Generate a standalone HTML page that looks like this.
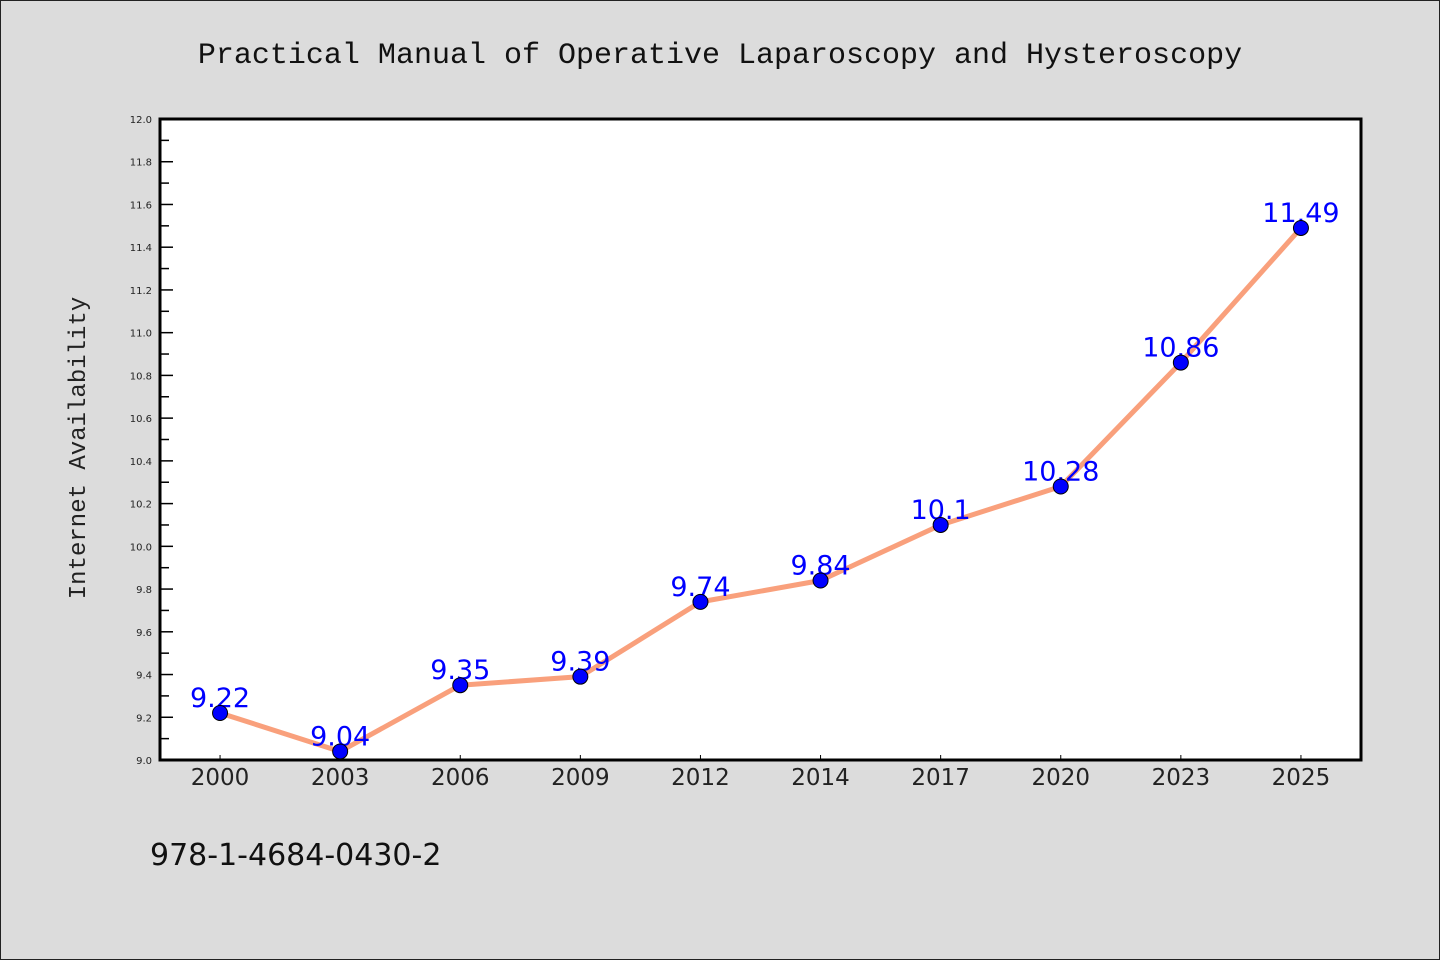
<!DOCTYPE html>
<html><head><meta charset="utf-8"><style>
body{margin:0;background:#dcdcdc}
svg{display:block}
</style></head><body>
<svg id="chart" width="1440" height="960" viewBox="0 0 1440 960" xmlns="http://www.w3.org/2000/svg">
<rect x="0.5" y="0.5" width="1439" height="959" fill="#dcdcdc" stroke="#222" stroke-width="1"/>
<text x="720" y="63" text-anchor="middle" font-family="'Liberation Mono','WenQuanYi Zen Hei',monospace" font-size="30" fill="#111">Practical Manual of Operative Laparoscopy and Hysteroscopy</text>
<rect x="160" y="119" width="1201" height="641" fill="#fff"/>
<g id="yaxis"></g>
<g id="xaxis"></g>
<g id="series"></g>
<rect x="160" y="119" width="1201" height="641" fill="none" stroke="#000" stroke-width="3"/>
<text transform="translate(85,448) rotate(-90)" text-anchor="middle" font-family="'Liberation Mono','WenQuanYi Zen Hei',monospace" font-size="24" fill="#222">Internet Availability</text>
<text x="150" y="865" font-family="'DejaVu Sans','WenQuanYi Zen Hei',sans-serif" font-size="30" fill="#111">978-1-4684-0430-2</text>
</svg>
<script>
const categories=["2000","2003","2006","2009","2012","2014","2017","2020","2023","2025"];
const values=[9.22,9.04,9.35,9.39,9.74,9.84,10.1,10.28,10.86,11.49];
const valueLabels=["9.22","9.04","9.35","9.39","9.74","9.84","10.1","10.28","10.86","11.49"];
const yTicks=[9.0,9.2,9.4,9.6,9.8,10.0,10.2,10.4,10.6,10.8,11.0,11.2,11.4,11.6,11.8,12.0];
const yMin=9.0,yMax=12.0;
const L=160,R=1361,T=119,B=760;
const NS="http://www.w3.org/2000/svg";
function y(v){return B-(v-yMin)/(yMax-yMin)*(B-T);}
function x(i){return L+(R-L)/categories.length*(i+0.5);}
function mk(tag,attrs,parent){const e=document.createElementNS(NS,tag);for(const k in attrs)e.setAttribute(k,attrs[k]);parent.appendChild(e);return e;}
const ya=document.getElementById('yaxis'),xa=document.getElementById('xaxis'),se=document.getElementById('series');
yTicks.forEach((t,i)=>{
  const l=mk('line',{x1:L,x2:L+13,y1:y(t),y2:y(t),stroke:'#000','stroke-width':1.5},ya);
  
  
  const tx=mk('text',{x:152,y:y(t)+4,'text-anchor':'end','font-family':"'DejaVu Sans',sans-serif",'font-size':10,fill:'#222'},ya);
  
  
  tx.textContent=t.toFixed(1);
  if(i<yTicks.length-1){
    const m=mk('line',{x1:L,x2:L+9,y1:y(t+0.1),y2:y(t+0.1),stroke:'#000','stroke-width':1.5},ya);
    
    
  }
});
categories.forEach((c,i)=>{
  const l=mk('line',{x1:x(i),x2:x(i),y1:B,y2:B-5,stroke:'#000','stroke-width':1},xa);
  
  
  const tx=mk('text',{x:x(i),y:785,'text-anchor':'middle','font-family':"'DejaVu Sans',sans-serif",'font-size':23,fill:'#222'},xa);
  
  
  tx.textContent=c;
});
const pts=values.map((v,i)=>x(i)+','+y(v)).join(' ');
const pl=mk('polyline',{points:pts,fill:'none',stroke:'#f9a07c','stroke-width':5,'stroke-linejoin':'round'},se);


values.forEach((v,i)=>{
  const tx=mk('text',{x:x(i),y:y(v)-6,'text-anchor':'middle','font-family':"'DejaVu Sans',sans-serif",'font-size':27,fill:'#0000ff'},se);
  
  
  tx.textContent=valueLabels[i];
});
values.forEach((v,i)=>{
  const c=mk('circle',{cx:x(i),cy:y(v),r:7.5,fill:'#0000ff',stroke:'#000','stroke-width':1},se);
  
  
});
</script>
</body></html>
